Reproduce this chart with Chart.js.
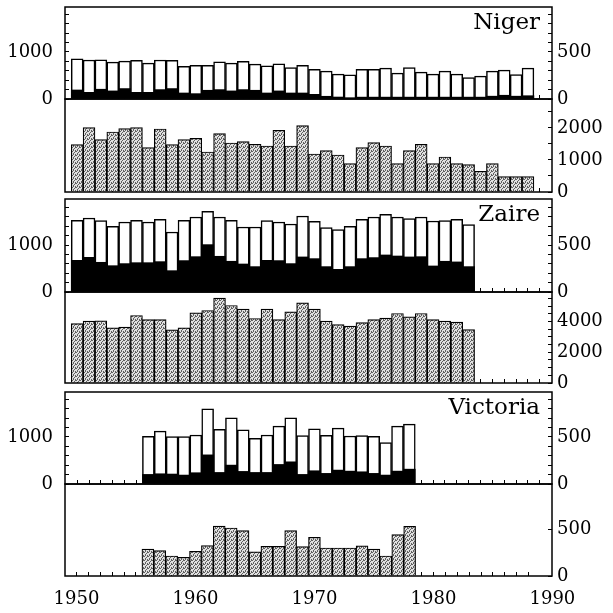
<!DOCTYPE html>
<html>
<head>
<meta charset="utf-8">
<title>Niger, Zaire, Victoria</title>
<script src="https://cdn.jsdelivr.net/npm/chart.js@4"></script>
<style>
body { margin: 0; background: #fff; }
#wrap { position: relative; width: 613px; height: 613px; overflow: hidden; }
#wrap canvas { position: absolute; left: 0; }
.basin { position: absolute; right: 73px; font: 23px/23px "DejaVu Serif", serif; color: #000; }
</style>
</head>
<body>
<div id="wrap"></div>
<script>
// Annual series per basin: rainfall (open bars, left axis), runoff (black, right axis),
// river discharge (stippled bars, lower panel)
const nigerStart = 1950;
const nigerRain = [857, 829, 836, 786, 807, 821, 764, 829, 821, 693, 714, 714, 793, 764, 800, 743, 707, 750, 671, 714,
    629, 593, 529, 514, 629, 629, 657, 550, 671, 571, 529, 593, 529, 457, 486, 593, 614, 521, 657];
const nigerRunoff = [96, 71, 104, 86, 111, 71, 71, 100, 111, 64, 57, 93, 100, 86, 100, 93, 64, 86, 64, 64,
    50, 29, 21, 14, 20, 20, 20, 20, 20, 20, 20, 20, 20, 20, 20, 30, 40, 30, 35];
const nigerFlow = [1479, 2010, 1635, 1875, 1979, 2010, 1385, 1969, 1479, 1635, 1677, 1250, 1823, 1531, 1573, 1490, 1438, 1927, 1438, 2073,
    1188, 1292, 1156, 885, 1385, 1542, 1438, 885, 1292, 1490, 885, 1094, 885, 854, 646, 885, 479, 479, 479];

const zaireStart = 1950;
const zaireRain = [1525, 1574, 1518, 1397, 1489, 1525, 1489, 1546, 1277, 1525, 1596, 1716, 1596, 1525, 1383, 1383, 1518, 1489, 1447, 1617,
    1503, 1369, 1326, 1397, 1546, 1596, 1652, 1596, 1560, 1596, 1510, 1518, 1546, 1432];
const zaireRunoff = [337, 369, 316, 280, 302, 312, 312, 323, 227, 334, 376, 504, 380, 327, 298, 270, 337, 334, 302, 373,
    355, 270, 241, 270, 355, 366, 394, 383, 373, 376, 277, 327, 320, 270];
const zaireFlow = [3870, 4022, 4043, 3587, 3630, 4391, 4130, 4130, 3457, 3587, 4565, 4717, 5522, 5043, 4804, 4196, 4804, 4130, 4630, 5217,
    4804, 4022, 3804, 3696, 3935, 4130, 4217, 4522, 4304, 4522, 4130, 4022, 3957, 3478];

const victoriaStart = 1956;
const victoriaRain = [1014, 1126, 1007, 1007, 1042, 1598, 1162, 1408, 1155, 972, 1042, 1232, 1408, 1028, 1176, 1035, 1190, 1021, 1028, 1014, 880, 1232, 1274];
const victoriaRunoff = [102, 109, 106, 95, 120, 310, 123, 201, 134, 123, 123, 208, 236, 102, 141, 113, 148, 137, 130, 113, 95, 137, 158];
const victoriaFlow = [287, 270, 213, 199, 263, 323, 532, 511, 483, 256, 316, 316, 483, 312, 412, 298, 298, 298, 320, 287, 213, 440, 529];

// Axis labels
const rainLabels = [0, 1000];
const runoffLabels = [0, 500];
const nigerFlowLabels = [0, 1000, 2000];
const zaireFlowLabels = [0, 2000, 4000];
const victoriaFlowLabels = [0, 500];
const decadeLabels = [1950, 1960, 1970, 1980, 1990];

const FONT = { family: '"DejaVu Serif", serif', size: 18 };
const X_MIN = 1949.5, X_MAX = 1989.5;
const PAD = 12;
const wrap = document.getElementById('wrap');

function points(start, values) {
    return values.map((v, i) => ({ x: start + i, y: v }));
}

function onlyAt(list) {
    return v => {
        const hit = list.find(l => Math.abs(l - v) < 1e-6);
        return hit === undefined ? '' : String(hit);
    };
}

// pin axis thickness so every panel gets the same plot box
function fitTo(size) {
    return s => {
        if (s.isHorizontal()) s.height = size; else s.width = size;
        s.paddingTop = s.paddingBottom = s.paddingLeft = s.paddingRight = 0;
    };
}

function stepTicks(max, step) {
    const t = [];
    if (!step) return t;
    for (let i = 0; i * step <= max; i++) t.push({ value: i * step });
    return t;
}

function stipple() {
    const c = document.createElement('canvas');
    c.width = 4; c.height = 4;
    const g = c.getContext('2d');
    g.fillStyle = '#e0e0e0';
    g.fillRect(0, 0, 4, 4);
    g.fillStyle = '#606060';
    [[0, 0], [2, 1], [1, 2], [3, 3], [3, 0], [1, 3]].forEach(([x, y]) => g.fillRect(x, y, 1, 1));
    return g.createPattern(c, 'repeat');
}
const grey = stipple();

function yScale(position, max, step, labels) {
    const left = position === 'left';
    return {
        type: 'linear', position, min: 0, max, bounds: 'data',
        afterBuildTicks: s => { s.ticks = stepTicks(max, step); },
        afterFit: fitTo(left ? 65 : 61),
        border: { display: false },
        grid: { display: !!step, drawOnChartArea: false, tickLength: -4, tickColor: '#000', tickWidth: 1 },
        ticks: {
            display: !!labels, autoSkip: false,
            padding: left ? 16 : 9, color: '#000', font: FONT,
            callback: onlyAt(labels || [])
        }
    };
}

function xScale(withLabels) {
    return {
        type: 'linear', min: X_MIN, max: X_MAX, bounds: 'data',
        afterBuildTicks: s => {
            const t = [];
            for (let y = 1950.5; y < X_MAX; y++) t.push({ value: y });
            if (withLabels) decadeLabels.forEach(v => t.push({ value: v }));
            s.ticks = t;
        },
        afterFit: fitTo(withLabels ? 30 : 0),
        border: { display: false },
        grid: {
            drawOnChartArea: false, tickLength: -4, tickWidth: 1,
            tickColor: c => (c.tick && Number.isInteger(c.tick.value)) ? 'rgba(0,0,0,0)' : '#000'
        },
        ticks: {
            display: withLabels, autoSkip: false, maxRotation: 0, padding: 17,
            color: '#000', font: FONT, callback: onlyAt(decadeLabels)
        }
    };
}

const frame = {
    id: 'frame',
    afterDatasetsDraw(chart) {
        const { ctx, chartArea: a } = chart;
        ctx.save();
        ctx.strokeStyle = '#000';
        ctx.lineWidth = 1.5;
        ctx.strokeRect(a.left, a.top, a.right - a.left, a.bottom - a.top);
        ctx.restore();
    }
};

function panel(top, bottom, xLabels, datasets, scales) {
    const canvas = document.createElement('canvas');
    canvas.width = 613;
    canvas.height = (bottom - top) + PAD + (xLabels ? 30 : PAD);
    canvas.style.top = (top - PAD) + 'px';
    wrap.appendChild(canvas);
    new Chart(canvas, {
        type: 'bar',
        data: { datasets },
        options: {
            responsive: false,
            animation: false,
            layout: { padding: { top: PAD, bottom: xLabels ? 0 : PAD, left: 0, right: 0 } },
            datasets: { bar: { grouped: false, barPercentage: 1, categoryPercentage: 1 } },
            plugins: { legend: { display: false }, tooltip: { enabled: false } },
            scales: Object.assign({ x: xScale(xLabels) }, scales)
        },
        plugins: [frame]
    });
}

function rainPanel(top, bottom, start, rain, runoff) {
    const h = bottom - top;
    panel(top, bottom, false, [
        { data: points(start, runoff), yAxisID: 'yR', backgroundColor: '#000', borderWidth: 0 },
        { data: points(start, rain), yAxisID: 'yL', backgroundColor: '#fff', borderColor: '#000', borderWidth: 1.5 }
    ], {
        yL: yScale('left', h / 47 * 1000, 200, rainLabels),
        yR: yScale('right', h / 47 * 500, 100, runoffLabels)
    });
}

function flowPanel(top, bottom, xLabels, start, flow, max, labels) {
    panel(top, bottom, xLabels, [
        { data: points(start, flow), yAxisID: 'yR', backgroundColor: grey, borderColor: '#000', borderWidth: 1.2 }
    ], {
        yL: yScale('left', 1, null, null),
        yR: yScale('right', max, 500, labels)
    });
}

rainPanel(7, 99, nigerStart, nigerRain, nigerRunoff);
flowPanel(99, 192, false, nigerStart, nigerFlow, 2906, nigerFlowLabels);
rainPanel(199, 292, zaireStart, zaireRain, zaireRunoff);
flowPanel(292, 383, false, zaireStart, zaireFlow, 5920, zaireFlowLabels);
rainPanel(392, 484, victoriaStart, victoriaRain, victoriaRunoff);
flowPanel(484, 576, true, victoriaStart, victoriaFlow, 979, victoriaFlowLabels);

// basin names in the upper right of each rainfall panel
[['Niger', 10], ['Zaire', 202], ['Victoria', 395]].forEach(([name, y]) => {
    const d = document.createElement('div');
    d.className = 'basin';
    d.style.top = y + 'px';
    d.textContent = name;
    wrap.appendChild(d);
});
</script>
</body>
</html>
